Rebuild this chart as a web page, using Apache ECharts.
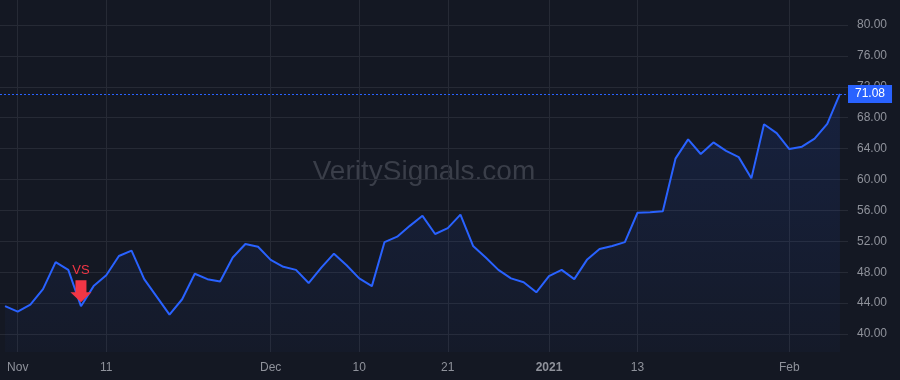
<!DOCTYPE html>
<html>
<head>
<meta charset="utf-8">
<script src="https://cdn.jsdelivr.net/npm/echarts@6/dist/echarts.min.js"></script>
<style>
html,body{margin:0;padding:0;background:#141823;}
#chart{width:900px;height:380px;}
</style>
</head>
<body>
<div id="chart"></div>
<script>
// Trading days (Oct 30 2020 - Feb 5 2021)
const dates = [
  '2020-10-30',
  '2020-11-02','2020-11-03','2020-11-04','2020-11-05','2020-11-06','2020-11-09','2020-11-10','2020-11-11','2020-11-12','2020-11-13',
  '2020-11-16','2020-11-17','2020-11-18','2020-11-19','2020-11-20','2020-11-23','2020-11-24','2020-11-25','2020-11-27','2020-11-30',
  '2020-12-01','2020-12-02','2020-12-03','2020-12-04','2020-12-07','2020-12-08','2020-12-09','2020-12-10','2020-12-11',
  '2020-12-14','2020-12-15','2020-12-16','2020-12-17','2020-12-18','2020-12-21','2020-12-22','2020-12-23','2020-12-24',
  '2020-12-28','2020-12-29','2020-12-30','2020-12-31',
  '2021-01-04','2021-01-05','2021-01-06','2021-01-07','2021-01-08','2021-01-11','2021-01-12','2021-01-13','2021-01-14','2021-01-15',
  '2021-01-19','2021-01-20','2021-01-21','2021-01-22','2021-01-25','2021-01-26','2021-01-27','2021-01-28','2021-01-29',
  '2021-02-01','2021-02-02','2021-02-03','2021-02-04','2021-02-05'
];
const prices = [
  43.6, 42.9, 43.8, 45.8, 49.3, 48.3, 43.6, 46.2, 47.6, 50.1,
  50.8, 47.1, 44.8, 42.5, 44.5, 47.8, 47.1, 46.8, 49.9, 51.65,
  51.3, 49.6, 48.7, 48.3, 46.6, 48.6, 50.4, 48.9, 47.2, 46.2,
  51.9, 52.6, 54.0, 55.3, 52.95, 53.7, 55.45, 51.4, 49.9, 48.3,
  47.2, 46.7, 45.4, 47.5, 48.3, 47.1, 49.6, 51.0, 51.4, 51.9,
  55.7, 55.75, 55.9, 62.7, 65.2, 63.3, 64.8, 63.7, 62.9, 60.15,
  67.15, 66.0, 63.95, 64.25, 65.3, 67.2, 71.08
];
const tickDates = ['2020-11-02','2020-11-11','2020-12-01','2020-12-10','2020-12-21','2021-01-04','2021-01-13','2021-02-01'];
const tickLabels = ['Nov','11','Dec','10','21','2021','13','Feb'];
const yTicks = [40,44,48,52,56,60,64,68,72,76,80];
const signalDate = '2020-11-09';
const signalText = 'VS';
const watermark = 'VeritySignals.com';

const tickIdx = tickDates.map(d => dates.indexOf(d));
const seriesData = prices.map((v, i) => [i, v]);
const lastVal = prices[prices.length - 1];
const sigIdx = dates.indexOf(signalDate);

const chart = echarts.init(document.getElementById('chart'), null, {renderer: 'canvas'});
const fontFam = 'Liberation Sans, Arial, sans-serif';
chart.setOption({
  animation: false,
  backgroundColor: '#141823',
  textStyle: {fontFamily: fontFam},
  grid: {left: 0, right: 52, top: 0, bottom: 28, containLabel: false, outerBoundsMode: 'none'},
  graphic: [{
    type: 'text', x: 424, y: 172, z: 0,
    style: {text: watermark, fontSize: 28, fill: '#3a3e49', fontFamily: fontFam,
      align: 'center', verticalAlign: 'middle'}
  }],
  xAxis: {
    type: 'value', min: -0.4, max: 66.64,
    axisLine: {show: false},
    axisTick: {show: false, customValues: tickIdx},
    splitLine: {show: true, lineStyle: {color: '#262a35', width: 1}},
    axisLabel: {
      customValues: tickIdx, color: '#8f929b', fontSize: 12, margin: 10,
      formatter: v => {
        const k = tickIdx.indexOf(Math.round(v));
        const t = k >= 0 ? tickLabels[k] : '';
        return /^\d{4}$/.test(t) ? '{b|' + t + '}' : t;
      },
      rich: {b: {fontWeight: 'bold', color: '#8f929b', fontSize: 12, fontFamily: fontFam}}
    }
  },
  yAxis: {
    type: 'value', position: 'right', min: 37.67, max: 83.24, scale: true,
    axisLine: {show: false},
    axisTick: {show: false, customValues: yTicks},
    splitLine: {show: true, lineStyle: {color: '#262a35', width: 1}},
    axisLabel: {customValues: yTicks, color: '#8f929b', fontSize: 12, margin: 9,
      formatter: v => v.toFixed(2)}
  },
  series: [{
    type: 'line', data: seriesData, showSymbol: false, z: 3,
    lineStyle: {color: '#2962ff', width: 2},
    itemStyle: {color: '#2962ff'},
    areaStyle: {
      color: new echarts.graphic.LinearGradient(0, 0, 0, 1, [
        {offset: 0, color: 'rgba(41,98,255,0.18)'},
        {offset: 1, color: 'rgba(41,98,255,0.04)'}
      ])
    },
    markLine: {
      silent: true, symbol: ['none', 'none'],
      lineStyle: {color: '#2962ff', type: [2, 2], width: 1},
      label: {
        show: true, position: 'end', distance: 0,
        formatter: () => lastVal.toFixed(2),
        backgroundColor: '#2962ff', color: '#ffffff', fontSize: 12,
        padding: [3, 7, 2, 7], lineHeight: 13, fontFamily: fontFam
      },
      data: [{yAxis: lastVal}]
    },
    markPoint: {
      silent: true,
      data: [{
        coord: [sigIdx, prices[sigIdx]],
        symbol: 'path://M5,0 L16,0 L16,12 L21,12 L10.5,22 L0,12 L5,12 Z',
        symbolSize: [21, 22],
        symbolOffset: [0, -15],
        itemStyle: {color: '#f23645'},
        label: {show: true, position: 'top', distance: 3, formatter: signalText,
          color: '#f23645', fontSize: 13, fontFamily: fontFam}
      }]
    }
  }]
});
</script>
</body>
</html>
